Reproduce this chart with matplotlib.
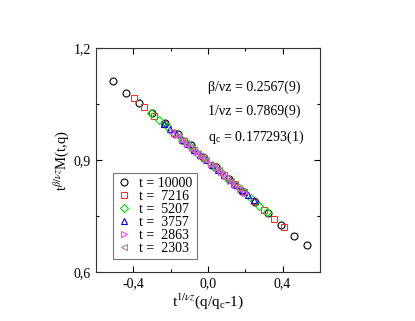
import matplotlib
matplotlib.use("Agg")
import matplotlib.pyplot as plt
from matplotlib.ticker import FixedLocator, FuncFormatter

plt.rcParams['font.family'] = ['Liberation Serif', 'DejaVu Serif']
plt.rcParams['mathtext.fontset'] = 'stix'

# data collapse, one series per time t
labels = ["t = 10000", "t =  7216", "t =  5207", "t =  3757", "t =  2863", "t =  2303"]

x_10000 = [-0.507, -0.438, -0.369, -0.300, -0.231, -0.162, -0.093, -0.024,
           0.045, 0.114, 0.183, 0.252, 0.321, 0.390, 0.459, 0.528]
y_10000 = [1.112, 1.081, 1.053, 1.025, 0.998, 0.969, 0.939, 0.909,
           0.880, 0.850, 0.818, 0.787, 0.758, 0.727, 0.697, 0.671]

x_7216 = [-0.395, -0.342, -0.288, -0.235, -0.181, -0.128, -0.075, -0.021,
          0.032, 0.086, 0.139, 0.193, 0.246, 0.299, 0.353, 0.406]
y_7216 = [1.066, 1.041, 1.018, 0.996, 0.973, 0.951, 0.928, 0.905,
          0.883, 0.860, 0.837, 0.814, 0.789, 0.766, 0.743, 0.720]

x_5207 = [-0.304, -0.263, -0.221, -0.180, -0.139, -0.097, -0.056, -0.015,
          0.027, 0.068, 0.109, 0.151, 0.192, 0.233, 0.275, 0.316]
y_5207 = [1.027, 1.008, 0.990, 0.972, 0.955, 0.937, 0.919, 0.902,
          0.884, 0.867, 0.849, 0.832, 0.814, 0.797, 0.777, 0.760]

x_3757 = [-0.235, -0.203, -0.171, -0.139, -0.107, -0.075, -0.043, -0.011,
          0.021, 0.053, 0.085, 0.117, 0.149, 0.181, 0.213, 0.245]
y_3757 = [0.996, 0.982, 0.969, 0.955, 0.942, 0.928, 0.914, 0.901,
          0.887, 0.874, 0.860, 0.846, 0.833, 0.819, 0.805, 0.792]

x_2863 = [-0.190, -0.164, -0.138, -0.113, -0.087, -0.061, -0.035, -0.010,
          0.016, 0.042, 0.068, 0.093, 0.119, 0.145, 0.171, 0.197]
y_2863 = [0.977, 0.966, 0.955, 0.944, 0.933, 0.922, 0.911, 0.900,
          0.889, 0.878, 0.867, 0.856, 0.845, 0.834, 0.823, 0.812]

x_2303 = [-0.160, -0.138, -0.117, -0.095, -0.073, -0.052, -0.030, -0.008,
          0.013, 0.035, 0.057, 0.078, 0.100, 0.122, 0.143, 0.165]
y_2303 = [0.964, 0.955, 0.946, 0.936, 0.927, 0.918, 0.909, 0.899,
          0.890, 0.881, 0.872, 0.863, 0.853, 0.844, 0.835, 0.826]

xs = [x_10000, x_7216, x_5207, x_3757, x_2863, x_2303]
ys = [y_10000, y_7216, y_5207, y_3757, y_2863, y_2303]
markers = ['o', 's', 'D', '^', '>', '<']
sizes = [5, 5, 4.2, 5, 5, 5]
colors = ['black', '#ff3030', '#00dd00', '#0000ff', '#ff40ff', '#b08080']

fig = plt.figure(figsize=(4.15, 3.21), dpi=100)
ax = fig.add_axes([0.231, 0.153, 0.540, 0.697])

for x, y, m, s, c, lab in zip(xs, ys, markers, sizes, colors, labels):
    ax.plot(x, y, linestyle='none', marker=m, markersize=s, markerfacecolor='none',
            markeredgecolor=c, markeredgewidth=0.8, label=lab)

ax.set_xlim(-0.6, 0.6)
ax.set_ylim(0.6, 1.2)
ax.xaxis.set_major_locator(FixedLocator([-0.4, 0.0, 0.4]))
ax.xaxis.set_minor_locator(FixedLocator([-0.2, 0.2]))
ax.yaxis.set_major_locator(FixedLocator([0.6, 0.9, 1.2]))
ax.yaxis.set_minor_locator(FixedLocator([0.75, 1.05]))
comma = FuncFormatter(lambda v, p: f"{v:.1f}".replace('.', ',').replace('-0,0', '0,0'))
ax.xaxis.set_major_formatter(comma)
ax.yaxis.set_major_formatter(comma)
ax.tick_params(which='both', direction='in', top=True, right=True, labelsize=10, width=0.8)
ax.tick_params(which='major', length=4.3)
ax.tick_params(which='minor', length=2.2)
for sp in ax.spines.values():
    sp.set_linewidth(0.8)
    sp.set_color('#333333')

ax.set_xlabel(r"t$^{1/\nu z}$(q/q$_\mathregular{c}$-1)", fontsize=11, labelpad=1)
ax.set_ylabel(r"t$^{\beta/\nu z}$M(t,q)", fontsize=10.5, labelpad=1)

ax.text(0.50, 0.81, "β/νz = 0.2567(9)", transform=ax.transAxes, fontsize=10)
ax.text(0.50, 0.70, "1/νz = 0.7869(9)", transform=ax.transAxes, fontsize=10)
ax.text(0.50, 0.585, r"q$_\mathregular{c}$ = 0.177293(1)", transform=ax.transAxes, fontsize=10)

leg = ax.legend(loc='lower left', bbox_to_anchor=(0.076, 0.058), borderaxespad=0,
                fontsize=10, fancybox=False, framealpha=1, edgecolor='#777777',
                handlelength=1.0, handletextpad=0.6, labelspacing=0.0, borderpad=0.3)
leg.get_frame().set_linewidth(0.8)

fig.savefig("out.png", dpi=100)
